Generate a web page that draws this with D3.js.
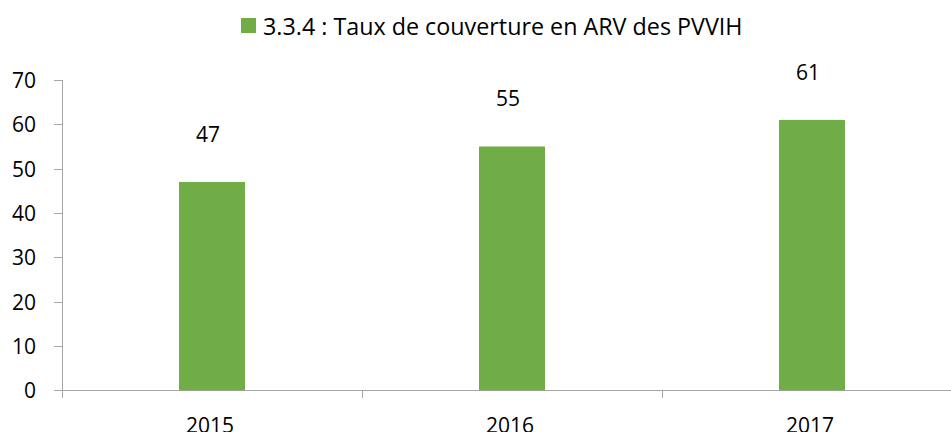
<!DOCTYPE html>
<html>
<head>
<meta charset="utf-8">
<script src="https://cdn.jsdelivr.net/npm/d3@7"></script>
<style>
  body { margin: 0; background: #fff; }
  svg { display: block; font-family: 'Open Sans', sans-serif; }
</style>
</head>
<body>
<div id="chart"></div>
<script>
// data
var years = ['2015', '2016', '2017']
var coverage = [47, 55, 61]
var yTicks = [0, 10, 20, 30, 40, 50, 60, 70]
var seriesName = '3.3.4 : Taux de couverture en ARV des PVVIH'

var W = 951, H = 432
var barClr = '#70AD47'
var axisClr = '#A6A6A6'

var svg = d3.select('#chart').append('svg')
  .attr('width', W).attr('height', H)

// plot area (the category band runs past the right edge, as in the source)
var plotL = 62, plotR = 962, plotT = 80, plotB = 390.3

var x = d3.scaleBand().domain(years).range([plotL, plotR]).paddingInner(0).paddingOuter(0)
var y = d3.scaleLinear().domain([0, 70]).range([plotB, plotT])

// y axis
var yAxis = svg.append('g')
  .attr('transform', 'translate(' + plotL + ',0)')
  .call(d3.axisLeft(y).tickValues(yTicks).tickSize(8).tickPadding(18))
yAxis.select('.domain').remove()
yAxis.selectAll('line').attr('stroke', axisClr).attr('shape-rendering', 'crispEdges')
yAxis.selectAll('text')
  .attr('fill', '#000').attr('font-size', 21)
  .attr('font-family', "'Open Sans', sans-serif")
  .attr('dy', '0.36em')

svg.append('line')
  .attr('x1', plotL).attr('x2', plotL)
  .attr('y1', y(70)).attr('y2', plotB + 8)
  .attr('stroke', axisClr).attr('shape-rendering', 'crispEdges')

// x axis: baseline + tick marks between categories
svg.append('line')
  .attr('x1', plotL).attr('x2', W)
  .attr('y1', plotB).attr('y2', plotB)
  .attr('stroke', axisClr).attr('shape-rendering', 'crispEdges')

svg.selectAll('.xtick').data(years.slice(1)).enter().append('line')
  .attr('class', 'xtick')
  .attr('x1', function(d){ return x(d) }).attr('x2', function(d){ return x(d) })
  .attr('y1', plotB).attr('y2', plotB + 8)
  .attr('stroke', axisClr).attr('shape-rendering', 'crispEdges')

svg.selectAll('.xlab').data(years).enter().append('text')
  .attr('class', 'xlab')
  .attr('x', function(d){ return x(d) + x.bandwidth() / 2 - 2 })
  .attr('y', 433)
  .attr('text-anchor', 'middle')
  .attr('font-size', 21)
  .text(function(d){ return d })

// bars
var barW = 66
svg.selectAll('.bar').data(coverage).enter().append('rect')
  .attr('class', 'bar')
  .attr('x', function(d, i){ return x(years[i]) + x.bandwidth() / 2 - barW / 2 })
  .attr('width', barW)
  .attr('y', function(d){ return y(d) })
  .attr('height', function(d){ return plotB - y(d) })
  .attr('fill', barClr)

// value labels
svg.selectAll('.val').data(coverage).enter().append('text')
  .attr('class', 'val')
  .attr('x', function(d, i){ return x(years[i]) + x.bandwidth() / 2 - 4 })
  .attr('y', function(d){ return y(d) - 40 })
  .attr('text-anchor', 'middle')
  .attr('font-size', 21)
  .text(function(d){ return d })

// legend
var leg = svg.append('g').attr('transform', 'translate(241,18)')
leg.append('rect').attr('width', 15).attr('height', 15).attr('fill', barClr)
leg.append('text')
  .attr('x', 22).attr('y', 17)
  .attr('font-size', 23.3)
  .text(seriesName)
</script>
</body>
</html>
